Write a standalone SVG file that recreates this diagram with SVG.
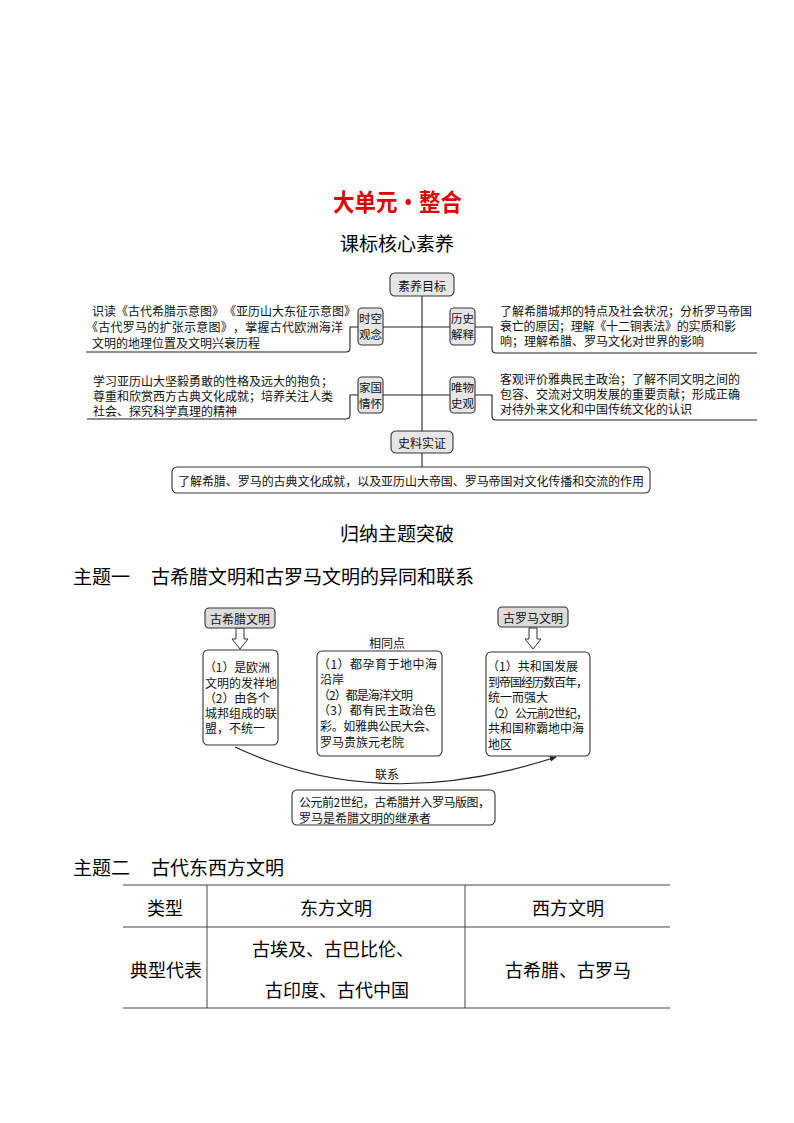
<svg xmlns="http://www.w3.org/2000/svg" width="794" height="1123" viewBox="0 0 794 1123">
<defs>
<style>
text{font-family:"Noto Sans CJK SC","Liberation Sans",sans-serif;fill:#111;text-spacing-trim:space-all;}
.t12{font-size:12px;dominant-baseline:central;}
.t11{font-size:11.5px;dominant-baseline:central;}
.c{text-anchor:middle;}
.h{font-size:19px;dominant-baseline:central;fill:#000;}
.tt{font-size:18px;dominant-baseline:central;fill:#000;text-anchor:middle;}
.gb{fill:#e6e6e6;stroke:#333;stroke-width:1.1;}
.wb{fill:#fff;stroke:#333;stroke-width:1.1;}
.ln{fill:none;stroke:#222;stroke-width:1.1;}
.tb{fill:none;stroke:#444;stroke-width:1;}
</style>
<marker id="ah" viewBox="0 0 10 10" refX="9" refY="5" markerWidth="7" markerHeight="7" orient="auto" markerUnits="userSpaceOnUse">
<path d="M0,1 L10,5 L0,9 Z" fill="#222"/>
</marker>
</defs>
<rect width="794" height="1123" fill="#fff"/>

<text x="333" y="200" textLength="129" lengthAdjust="spacingAndGlyphs" style="font-size:24px;font-weight:bold;fill:#e00000;dominant-baseline:central;">大单元•整合</text>
<text x="397" y="242" class="h c">课标核心素养</text>

<g id="connectors">
<line class="ln" x1="422" y1="296" x2="422" y2="467"/>
<line class="ln" x1="383" y1="327" x2="450" y2="327"/>
<line class="ln" x1="383" y1="395" x2="450" y2="395"/>
<path class="ln" d="M358,327 H350 V348 Q350,352 346,352 H86"/>
<path class="ln" d="M475,327 H492 V349 Q492,353 496,353 H757"/>
<path class="ln" d="M358,395 H350 V415 Q350,419 346,419 H87"/>
<path class="ln" d="M475,395 H492 V416 Q492,420 496,420 H757"/>
<polygon points="236,628 244,628 244,639 248,639 240,649 232,639 236,639" fill="#fff" stroke="#333" stroke-width="1"/>
<polygon points="529,628 537,628 537,639 541,639 533,649 525,639 529,639" fill="#fff" stroke="#333" stroke-width="1"/>
<path class="ln" d="M235,747 Q380,815 556,757" marker-end="url(#ah)"/>
</g>

<g id="n-suyang"><rect class="gb" x="390" y="273" width="64" height="23" rx="5"/><text x="422" y="285" class="t12 c">素养目标</text></g>
<g id="n-shikong"><rect class="gb" x="358" y="308" width="25" height="37" rx="4"/><text x="370.5" y="318" class="t11 c">时空</text><text x="370.5" y="334" class="t11 c">观念</text></g>
<g id="n-lishi"><rect class="gb" x="450" y="308" width="25" height="37" rx="4"/><text x="462.5" y="318" class="t11 c">历史</text><text x="462.5" y="334" class="t11 c">解释</text></g>
<g id="n-jiaguo"><rect class="gb" x="358" y="377" width="25" height="36" rx="4"/><text x="370.5" y="387" class="t11 c">家国</text><text x="370.5" y="403" class="t11 c">情怀</text></g>
<g id="n-weiwu"><rect class="gb" x="450" y="377" width="25" height="36" rx="4"/><text x="462.5" y="387" class="t11 c">唯物</text><text x="462.5" y="403" class="t11 c">史观</text></g>
<g id="n-shiliao"><rect class="gb" x="391" y="431" width="62" height="22" rx="5"/><text x="422" y="442" class="t12 c">史料实证</text></g>

<g id="txt-shikong">
<text x="92" y="310" class="t12" textLength="264" lengthAdjust="spacing">识读《古代希腊示意图》《亚历山大东征示意图》</text>
<text x="86" y="326" class="t12" textLength="257" lengthAdjust="spacing">《古代罗马的扩张示意图》，掌握古代欧洲海洋</text>
<text x="92" y="342" class="t12">文明的地理位置及文明兴衰历程</text>
</g>
<g id="txt-lishi">
<text x="500" y="310" class="t12">了解希腊城邦的特点及社会状况；分析罗马帝国</text>
<text x="500" y="325" class="t12" textLength="236" lengthAdjust="spacing">衰亡的原因；理解《十二铜表法》的实质和影</text>
<text x="500" y="340" class="t12">响；理解希腊、罗马文化对世界的影响</text>
</g>
<g id="txt-jiaguo">
<text x="93" y="380" class="t12">学习亚历山大坚毅勇敢的性格及远大的抱负；</text>
<text x="93" y="395" class="t12">尊重和欣赏西方古典文化成就；培养关注人类</text>
<text x="93" y="410" class="t12">社会、探究科学真理的精神</text>
</g>
<g id="txt-weiwu">
<text x="500" y="378" class="t12">客观评价雅典民主政治；了解不同文明之间的</text>
<text x="500" y="393" class="t12">包容、交流对文明发展的重要贡献；形成正确</text>
<text x="500" y="408" class="t12">对待外来文化和中国传统文化的认识</text>
</g>
<g id="n-shiliao-txt"><rect class="wb" x="172" y="467" width="478" height="26" rx="5"/><text x="178" y="480" class="t12" textLength="466" lengthAdjust="spacing">了解希腊、罗马的古典文化成就，以及亚历山大帝国、罗马帝国对文化传播和交流的作用</text></g>

<text x="397" y="532" class="h c">归纳主题突破</text>
<text x="73" y="575" class="h">主题一</text>
<text x="151" y="575" class="h">古希腊文明和古罗马文明的异同和联系</text>

<g id="n-xila"><rect x="205" y="608" width="70" height="20" rx="4" fill="#dcdcdc" stroke="#333" stroke-width="1.1"/><text x="240" y="618" class="t12 c">古希腊文明</text></g>
<g id="n-luoma"><rect x="498" y="607" width="70" height="20" rx="4" fill="#dcdcdc" stroke="#333" stroke-width="1.1"/><text x="533" y="617" class="t12 c">古罗马文明</text></g>
<g id="n-xila-box"><rect class="wb" x="203" y="650" width="75" height="95" rx="5"/>
<text x="204" y="666" class="t12" textLength="66" lengthAdjust="spacing">（1）是欧洲</text>
<text x="205" y="682" class="t12">文明的发祥地</text>
<text x="204" y="697" class="t12" textLength="66" lengthAdjust="spacing">（2）由各个</text>
<text x="205" y="712" class="t12">城邦组成的联</text>
<text x="205" y="727" class="t12">盟，不统一</text>
</g>
<text x="387" y="642" class="t12 c">相同点</text>
<g id="n-same"><rect class="wb" x="317" y="651" width="125" height="105" rx="5"/>
<text x="318" y="663" class="t12" textLength="119" lengthAdjust="spacing">（1）都孕育于地中海</text>
<text x="320" y="678" class="t12">沿岸</text>
<text x="318" y="694" class="t12" textLength="95" lengthAdjust="spacing">（2）都是海洋文明</text>
<text x="318" y="709" class="t12" textLength="118" lengthAdjust="spacing">（3）都有民主政治色</text>
<text x="320" y="725" class="t12" textLength="117" lengthAdjust="spacing">彩。如雅典公民大会、</text>
<text x="320" y="741" class="t12">罗马贵族元老院</text>
</g>
<g id="n-luoma-box"><rect class="wb" x="486" y="652" width="104" height="104" rx="5"/>
<text x="487" y="665" class="t12" textLength="91" lengthAdjust="spacing">（1）共和国发展</text>
<text x="488" y="681" class="t12" textLength="100" lengthAdjust="spacing">到帝国经历数百年，</text>
<text x="488" y="696" class="t12">统一而强大</text>
<text x="487" y="712" class="t12" textLength="101" lengthAdjust="spacing">（2）公元前2世纪，</text>
<text x="488" y="727" class="t12">共和国称霸地中海</text>
<text x="488" y="743" class="t12">地区</text>
</g>
<text x="387" y="773" class="t12 c">联系</text>
<g id="n-lianxi"><rect class="wb" x="292" y="790" width="203" height="35" rx="5"/>
<text x="299" y="801" class="t12" textLength="191" lengthAdjust="spacing">公元前2世纪，古希腊并入罗马版图，</text>
<text x="299" y="817" class="t12">罗马是希腊文明的继承者</text>
</g>

<text x="73" y="866" class="h">主题二</text>
<text x="151" y="866" class="h">古代东西方文明</text>

<g id="table">
<line class="tb" x1="123" y1="885" x2="670" y2="885"/>
<line class="tb" x1="123" y1="927" x2="670" y2="927"/>
<line class="tb" x1="123" y1="1008" x2="670" y2="1008"/>
<line class="tb" x1="207" y1="885" x2="207" y2="1008"/>
<line class="tb" x1="465" y1="885" x2="465" y2="1008"/>
<text x="165" y="907" class="tt">类型</text>
<text x="336" y="907" class="tt">东方文明</text>
<text x="568" y="907" class="tt">西方文明</text>
<text x="166" y="969" class="tt">典型代表</text>
<text x="333" y="948" class="tt">古埃及、古巴比伦、</text>
<text x="337" y="989" class="tt">古印度、古代中国</text>
<text x="568" y="969" class="tt">古希腊、古罗马</text>
</g>
</svg>
